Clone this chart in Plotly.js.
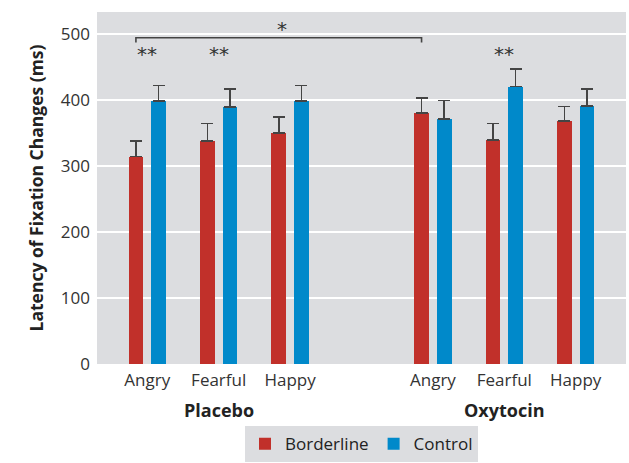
<!DOCTYPE html>
<html>
<head>
<meta charset="utf-8">
<script src="https://cdn.plot.ly/plotly-3.0.1.min.js"></script>
<style>html,body{margin:0;padding:0;background:#fff;}#chart{width:629px;height:463px;}</style>
</head>
<body>
<div id="chart"></div>
<script>
// ---- data ----
const emotions = ["Angry", "Fearful", "Happy", "Angry", "Fearful", "Happy"];
const positions = [0, 1, 2, 4, 5, 6];
const conditions = ["Placebo", "Oxytocin"];
const conditionCenters = [1, 5];
const borderline = [314, 338, 350, 380, 339, 368];
const borderlineErr = [24, 26, 24, 23, 25, 22];
const control = [398, 389, 398, 371, 420, 391];
const controlErr = [24, 27, 24, 28, 27, 25];
const yTicks = [0, 100, 200, 300, 400, 500];
// significance markers
const sigPairsIdx = [0, 1, 4];      // "**" between groups at these positions
const sigPairY = 470;
const bracketIdx = [0, 3];          // "*" bracket between borderline angry placebo vs oxytocin
const bracketY = 494, bracketDrop = 7;

// ---- layout constants ----
const barW = 0.206;
const offB = -0.262, offC = 0.056;
const red = "#c1302a", blue = "#0089ca", bg = "#dcdde0";
const font = "Open Sans, Noto Sans, sans-serif";

const errStyle = {type: "data", symmetric: false, thickness: 1.6, width: 6, color: "#444"};

const traces = [
  {type: "bar", name: "Borderline", x: positions, y: borderline, width: barW, offset: offB,
   marker: {color: red}, error_y: Object.assign({array: borderlineErr, arrayminus: borderline.map(() => 0)}, errStyle)},
  {type: "bar", name: "Control", x: positions, y: control, width: barW, offset: offC,
   marker: {color: blue}, error_y: Object.assign({array: controlErr, arrayminus: control.map(() => 0)}, errStyle)}
];

const bx0 = positions[bracketIdx[0]] + offB + barW / 2;
const bx1 = positions[bracketIdx[1]] + offB + barW / 2;
traces.push({type: "scatter", mode: "lines", showlegend: false, hoverinfo: "skip",
  x: [bx0, bx0, bx1, bx1], y: [bracketY - bracketDrop, bracketY, bracketY, bracketY - bracketDrop],
  line: {color: "#444", width: 1.6}});

const annotations = [];
sigPairsIdx.forEach(i => annotations.push({x: positions[i], y: sigPairY, xref: "x", yref: "y",
  text: "**", showarrow: false, font: {family: "DejaVu Sans", size: 20, color: "#333"}}));
annotations.push({x: (bx0 + bx1) / 2 + 0.05, y: bracketY + 13, xref: "x", yref: "y", text: "*",
  showarrow: false, font: {family: "DejaVu Sans", size: 20, color: "#333"}});
conditions.forEach((c, k) => annotations.push({x: conditionCenters[k], y: 0, xref: "x", yref: "paper",
  yanchor: "middle", yshift: -46, text: "<b>" + c + "</b>", showarrow: false,
  font: {family: font, size: 18, color: "#222"}}));

const layout = {
  width: 629, height: 463,
  margin: {l: 97, r: 3, t: 12, b: 99, autoexpand: false},
  paper_bgcolor: "#fff", plot_bgcolor: bg,
  font: {family: font, size: 17, color: "#333"},
  showlegend: true,
  legend: {orientation: "h", x: 0.5, xanchor: "center", y: -0.279, yanchor: "bottom",
    bgcolor: bg, font: {family: font, size: 17, color: "#222"}, itemwidth: 30, traceorder: "normal"},
  xaxis: {range: [-0.704, 6.704], tickvals: positions, ticktext: emotions, showgrid: false,
    zeroline: false, showline: false, ticks: "", tickfont: {size: 17, color: "#333"},
    ticklabelstandoff: 4, fixedrange: true},
  yaxis: {range: [0, 533], tickvals: yTicks, gridcolor: "#fff", gridwidth: 1.5, zeroline: false,
    showline: false, ticks: "", tickfont: {size: 17, color: "#333"}, ticklabelstandoff: 6,
    title: {text: "<b>Latency of Fixation Changes (ms)</b>", font: {size: 17.5, color: "#222"}, standoff: 12}},
  annotations: annotations,
  bargap: 0
};

Plotly.newPlot("chart", traces, layout, {displayModeBar: false, staticPlot: true});
</script>
</body>
</html>
